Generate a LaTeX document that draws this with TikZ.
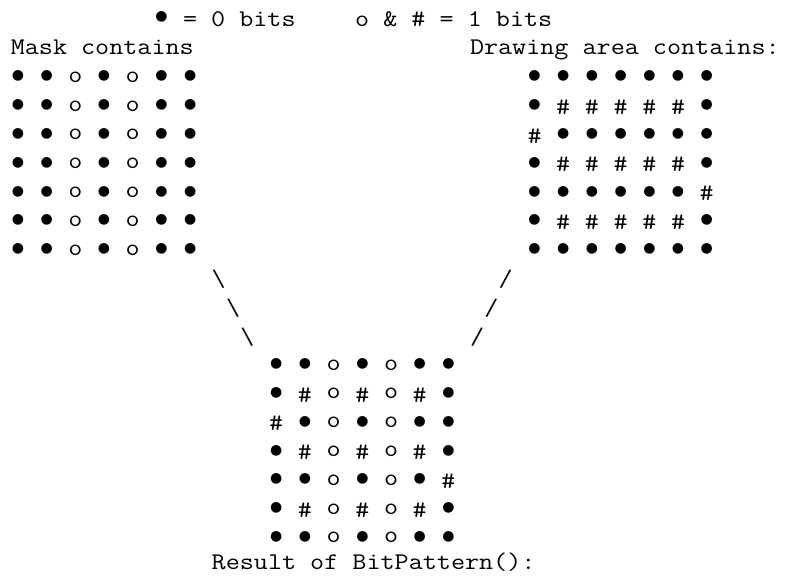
\documentclass[tikz,border=0pt]{standalone}
\usepackage{fontspec}
\newfontfamily\mymono[FakeStretch=1.1428]{Latin Modern Mono}
\newfontfamily\bulfont{DejaVu Sans}
\def\cw{14.35}
\def\xo{10.8}
\newcommand\bulglyph{{\bulfont\fontsize{14}{16}\selectfont ●}}
\def\symb{\bulglyph}
\def\symo{o}
\def\symh{\#}
\def\offb{4.3}
\def\offo{6.7}
\def\offh{9.8}
\newcommand\gsym[1]{\csname sym#1\endcsname}
\newcommand\goff[1]{\csname off#1\endcsname}
\begin{document}
\begin{tikzpicture}[x=1pt,y=-1pt,
  txt/.style={font=\mymono\fontsize{23.92}{28}\selectfont, anchor=base west, inner sep=0pt, outer sep=0pt, text=black},
  cell/.style={font=\mymono\fontsize{23.92}{28}\selectfont, anchor=base, inner sep=0pt, outer sep=0pt, text=black}]
\useasboundingbox (0,0) rectangle (787,577);
% legend
\node[cell] (legb) at ({\xo+10.5*\cw},{16.7+\offb}) {\bulglyph};
\node[txt] (leg0) at ({\xo+12*\cw},26.7) {= 0 bits};
\node[txt] (leg1) at ({\xo+24*\cw},26.7) {o \& \# = 1 bits};
% headers
\node[txt] (maskhdr) at ({\xo},54.3) {Mask contains};
\node[txt] (drawhdr) at ({\xo+32*\cw},54.3) {Drawing area contains:};
% mask grid
\foreach \row [count=\r from 0] in {{b,b,o,b,o,b,b},{b,b,o,b,o,b,b},{b,b,o,b,o,b,b},{b,b,o,b,o,b,b},{b,b,o,b,o,b,b},{b,b,o,b,o,b,b},{b,b,o,b,o,b,b}}{
  \foreach \c [count=\i from 0] in \row {
    \node[cell] (m\r-\i) at ({\xo+(2*\i+0.5)*\cw},{75.7+28.78*\r+\goff{\c}}) {\gsym{\c}};
  }
}
% drawing area grid
\foreach \row [count=\r from 0] in {{b,b,b,b,b,b,b},{b,h,h,h,h,h,b},{h,b,b,b,b,b,b},{b,h,h,h,h,h,b},{b,b,b,b,b,b,h},{b,h,h,h,h,h,b},{b,b,b,b,b,b,b}}{
  \foreach \c [count=\i from 0] in \row {
    \node[cell] (d\r-\i) at ({\xo+(36+2*\i+0.5)*\cw},{75.7+28.78*\r+\goff{\c}}) {\gsym{\c}};
  }
}
% slashes
\node[txt] (bs0) at ({\xo+14*\cw},287) {\textbackslash};
\node[txt] (bs1) at ({\xo+15*\cw},315.5) {\textbackslash};
\node[txt] (bs2) at ({\xo+16*\cw},344) {\textbackslash};
\node[txt] (fs0) at ({\xo+34*\cw},287) {/};
\node[txt] (fs1) at ({\xo+33*\cw},315.5) {/};
\node[txt] (fs2) at ({\xo+32*\cw},344) {/};
% result grid
\foreach \row [count=\r from 0] in {{b,b,o,b,o,b,b},{b,h,o,h,o,h,b},{h,b,o,b,o,b,b},{b,h,o,h,o,h,b},{b,b,o,b,o,b,h},{b,h,o,h,o,h,b},{b,b,o,b,o,b,b}}{
  \foreach \c [count=\i from 0] in \row {
    \node[cell] (r\r-\i) at ({\xo+(18+2*\i+0.5)*\cw},{363.5+28.78*\r+\goff{\c}}) {\gsym{\c}};
  }
}
\node[txt] (res) at ({\xo+14*\cw},569) {Result of BitPattern():};
\end{tikzpicture}
\end{document}
